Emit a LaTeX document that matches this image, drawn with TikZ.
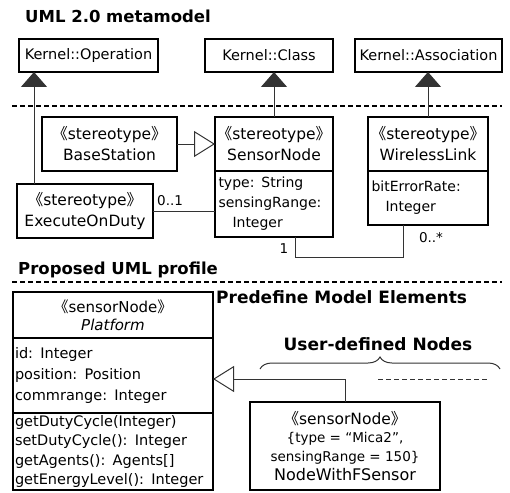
\documentclass[tikz,border=0pt]{standalone}
\usepackage{fontspec}
\setmainfont{DejaVu Sans}
\newfontfamily\cjk{Noto Sans CJK SC}
\usetikzlibrary{arrows.meta,decorations.pathreplacing}
\newcommand\gl{{\cjk 《}}
\newcommand\gr{{\cjk 》}}
\newcommand\fs[2]{\fontsize{#1}{#2}\selectfont}
\begin{document}
\begin{tikzpicture}[x=1pt,y=-1pt,
  box/.style={draw,line width=1.6pt,rectangle,inner sep=0pt,outer sep=0pt,anchor=north west,align=center},
  kern/.style={box,minimum height=33,font=\fs{14.5}{18}},
  hd/.style={box,minimum height=54,font=\fs{15.5}{21}},
  comp/.style={box,align=left,inner xsep=3.5pt,font=\fs{14}{20}},
  title/.style={anchor=base west,font=\fs{16.5}{20}\bfseries,inner sep=0pt},
  lbl/.style={font=\fs{13.5}{16},inner sep=0pt},
  con/.style={line width=1pt,draw=black!80},
  ext/.style={con,-{Triangle[width=26pt,length=15pt]}},
  gen/.style={con,-{Triangle[open,width=26pt,length=21pt,fill=white]}},
  sep/.style={line width=1.4pt,dash pattern=on 5pt off 3pt},
]
\useasboundingbox (0,0) rectangle (510,492);

% titles
\node[title] (t1) at (25,23) {UML 2.0 metamodel};
\node[title] (t2) at (18,274) {Proposed UML profile};
\node[title,font=\fs{17}{20}\bfseries] (t3) at (216,303) {Predefine Model Elements};
\node[title,anchor=base,font=\fs{17}{20}\bfseries] (t4) at (378,350) {User-defined Nodes};

% separators
\coordinate (s1a) at (12,106); \coordinate (s1b) at (502,106);
\coordinate (s2a) at (12,282); \coordinate (s2b) at (502,282);
\draw[sep] (s1a) -- (s1b);
\draw[sep] (s2a) -- (s2b);

% metamodel
\node[kern,minimum width=139] (KOp) at (19,39) {Kernel::Operation};
\node[kern,minimum width=128] (KCl) at (205,39) {Kernel::Class};
\node[kern,minimum width=147] (KAs) at (355,39) {Kernel::Association};

% profile
\node[hd,minimum width=135] (BS) at (42,117) {\gl stereotype\gr\\BaseStation};
\node[hd,minimum width=118] (SNH) at (215,117) {\gl stereotype\gr\\SensorNode};
\node[comp,text width=111,minimum height=66] (SNA) at (215,171) {type: String\\sensingRange:\\\hspace*{1em}Integer};
\node[hd,minimum width=136] (EOD) at (17,184) {\gl stereotype\gr\\ExecuteOnDuty};
\node[hd,minimum width=120] (WLH) at (368,117) {\gl stereotype\gr\\WirelessLink};
\node[comp,text width=113,minimum height=54] (WLA) at (368,171) {bitErrorRate:\\\hspace*{1em}Integer};

\draw[ext] ([xshift=17pt]EOD.north west) -- ([xshift=15pt]KOp.south west);
\draw[ext] (SNH.north) -- (SNH.north |- KCl.south);
\draw[ext] (WLH.north) -- (WLH.north |- KAs.south);
\draw[gen] (BS.east) -- (SNH.west);
\draw[con] (EOD.east) -- (EOD.east -| SNA.west);
\node[lbl,anchor=south west] (m01) at (157,206) {0..1};
\draw[con] ([xshift=80pt]SNA.south west) -- ++(0,20) -| ([xshift=35pt]WLA.south west);
\node[lbl] (m1) at (284,249) {1};
\node[lbl] (m0s) at (431,238) {0..*};

% predefined elements
\node[box,minimum width=200,minimum height=46,font=\fs{15}{18}] (PH) at (13,292) {\gl sensorNode\gr\\\itshape Platform};
\node[comp,text width=196,minimum height=75,inner xsep=2pt,font=\fs{14.5}{21}] (PA) at (13,338) {id: Integer\\position: Position\\commrange: Integer};
\node[comp,text width=196,minimum height=77,inner xsep=2pt,font=\fs{14.5}{19.5}] (PO) at (13,413) {getDutyCycle(Integer)\\setDutyCycle(): Integer\\getAgents(): Agents[]\\getEnergyLevel(): Integer};

\node[box,minimum width=190,minimum height=88,font=\fs{15}{18.5}] (NW) at (250,402)
  {{\fs{15.5}{18.5}\gl sensorNode\gr}\\{\fs{13.5}{17.5}\{type = “Mica2”,}\\{\fs{13.5}{17.5}sensingRange = 150\}}\\[1pt]{\fs{16}{20}NodeWithFSensor}};

\coordinate (gj) at (345,379);
\draw[con] (NW.north) -- (gj);
\draw[gen] (gj) -- (gj -| PA.east);
\coordinate (d1) at (378,379); \coordinate (d2) at (488,379);
\draw[con,dash pattern=on 5pt off 3pt] (d1) -- (d2);
\coordinate (b1) at (260,369); \coordinate (b2) at (500,369);
\draw[con,decorate,decoration={brace,amplitude=12pt}] (b1) -- (b2);
\end{tikzpicture}
\end{document}
